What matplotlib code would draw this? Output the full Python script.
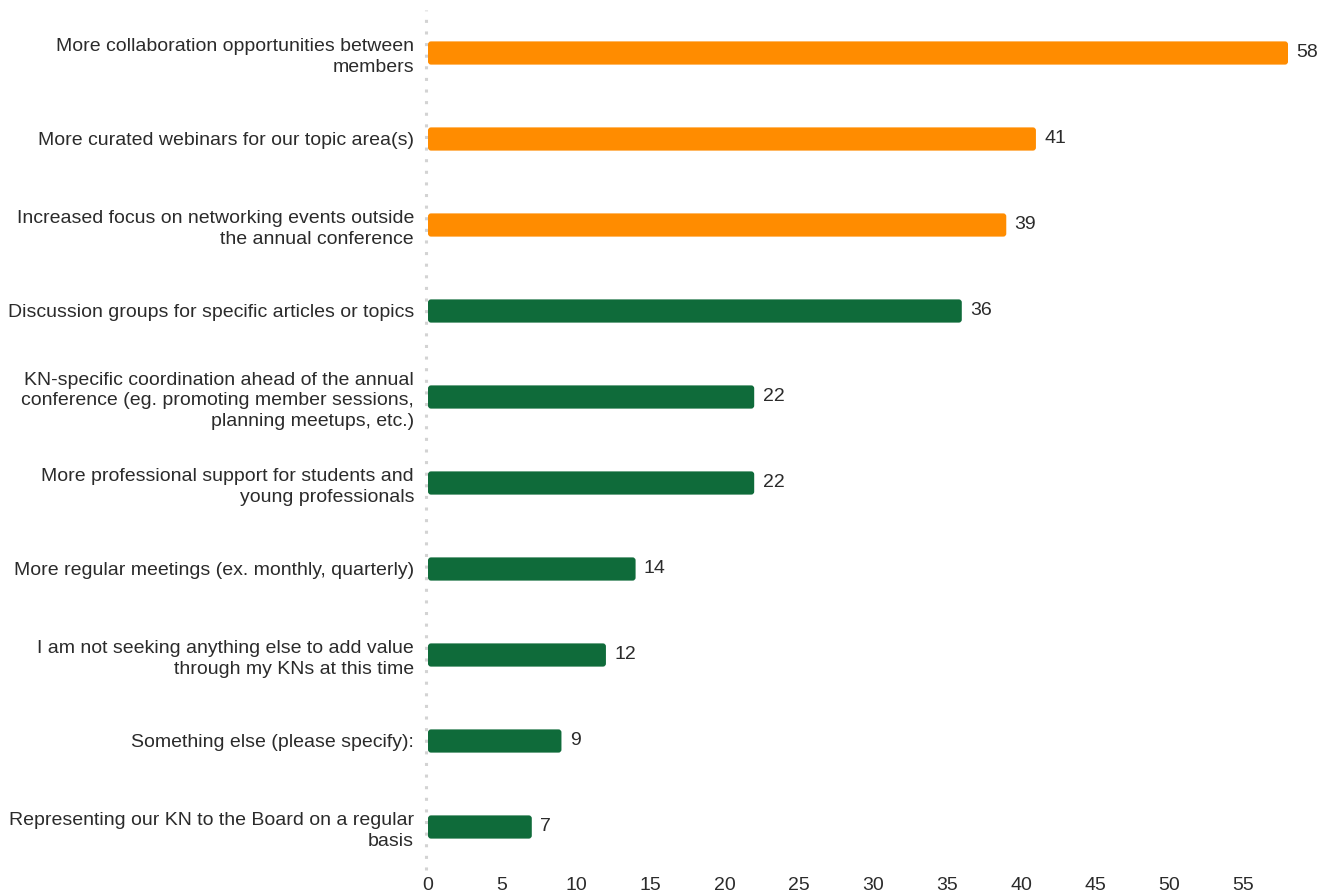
import matplotlib
matplotlib.use("Agg")
import matplotlib.pyplot as plt
from matplotlib.patches import FancyBboxPatch

categories = [
    "More collaboration opportunities between\nmembers",
    "More curated webinars for our topic area(s)",
    "Increased focus on networking events outside\nthe annual conference",
    "Discussion groups for specific articles or topics",
    "KN-specific coordination ahead of the annual\nconference (eg. promoting member sessions,\nplanning meetups, etc.)",
    "More professional support for students and\nyoung professionals",
    "More regular meetings (ex. monthly, quarterly)",
    "I am not seeking anything else to add value\nthrough my KNs at this time",
    "Something else (please specify):",
    "Representing our KN to the Board on a regular\nbasis",
]
values = [58, 41, 39, 36, 22, 22, 14, 12, 9, 7]
highlight = [True, True, True, False, False, False, False, False, False, False]
xticks = [0, 5, 10, 15, 20, 25, 30, 35, 40, 45, 50, 55]

ORANGE = "#FF8C00"
GREEN = "#0F6B3A"
TEXT = "#2b2b2b"

plt.rcParams['font.family'] = ['Liberation Sans', 'DejaVu Sans']

fig = plt.figure(figsize=(13.2, 8.93), dpi=100)
ax = fig.add_axes([428/1320, 1-870/893, (1288.0-428)/1320, 860/893])

n = len(categories)
ypos = list(range(n))
colors = [ORANGE if h else GREEN for h in highlight]
bars = ax.barh(ypos, values, height=0.27, color=colors)
ax.set_ylim(n - 0.5, -0.5)
ax.set_xlim(0, 58)

# rounded corners
x_px = (1288.0 - 428) / 58
y_px = 86.0
for b, c in zip(bars, colors):
    x, y, w, h = b.get_x(), b.get_y(), b.get_width(), b.get_height()
    b.set_visible(False)
    p = FancyBboxPatch((x, y), w, h,
                       boxstyle="round,pad=0,rounding_size=%f" % (3.0 / x_px),
                       mutation_aspect=x_px / y_px,
                       facecolor=c, edgecolor="none")
    ax.add_patch(p)

for yv, v in zip(ypos, values):
    ax.annotate(str(v), (v, yv), xytext=(6, 0), textcoords="offset points",
                va="center", ha="left", fontsize=14, color=TEXT)

ax.set_yticks(ypos)
ax.set_yticklabels(categories, fontsize=14, color=TEXT, ha="right",
                   multialignment="right", linespacing=1.3)
ax.set_xticks(xticks)
ax.set_xticklabels([str(t) for t in xticks], fontsize=14, color=TEXT)
ax.tick_params(axis="both", length=0)
ax.tick_params(axis="y", pad=10)
ax.tick_params(axis="x", pad=5)

for s in ["top", "right", "bottom", "left"]:
    ax.spines[s].set_visible(False)

ax.axvline(-0.12, color="#d3d3d3", linestyle=(0, (1, 2.8)), linewidth=2.2, zorder=0,
           clip_on=False)

fig.savefig("out.png", dpi=100)
